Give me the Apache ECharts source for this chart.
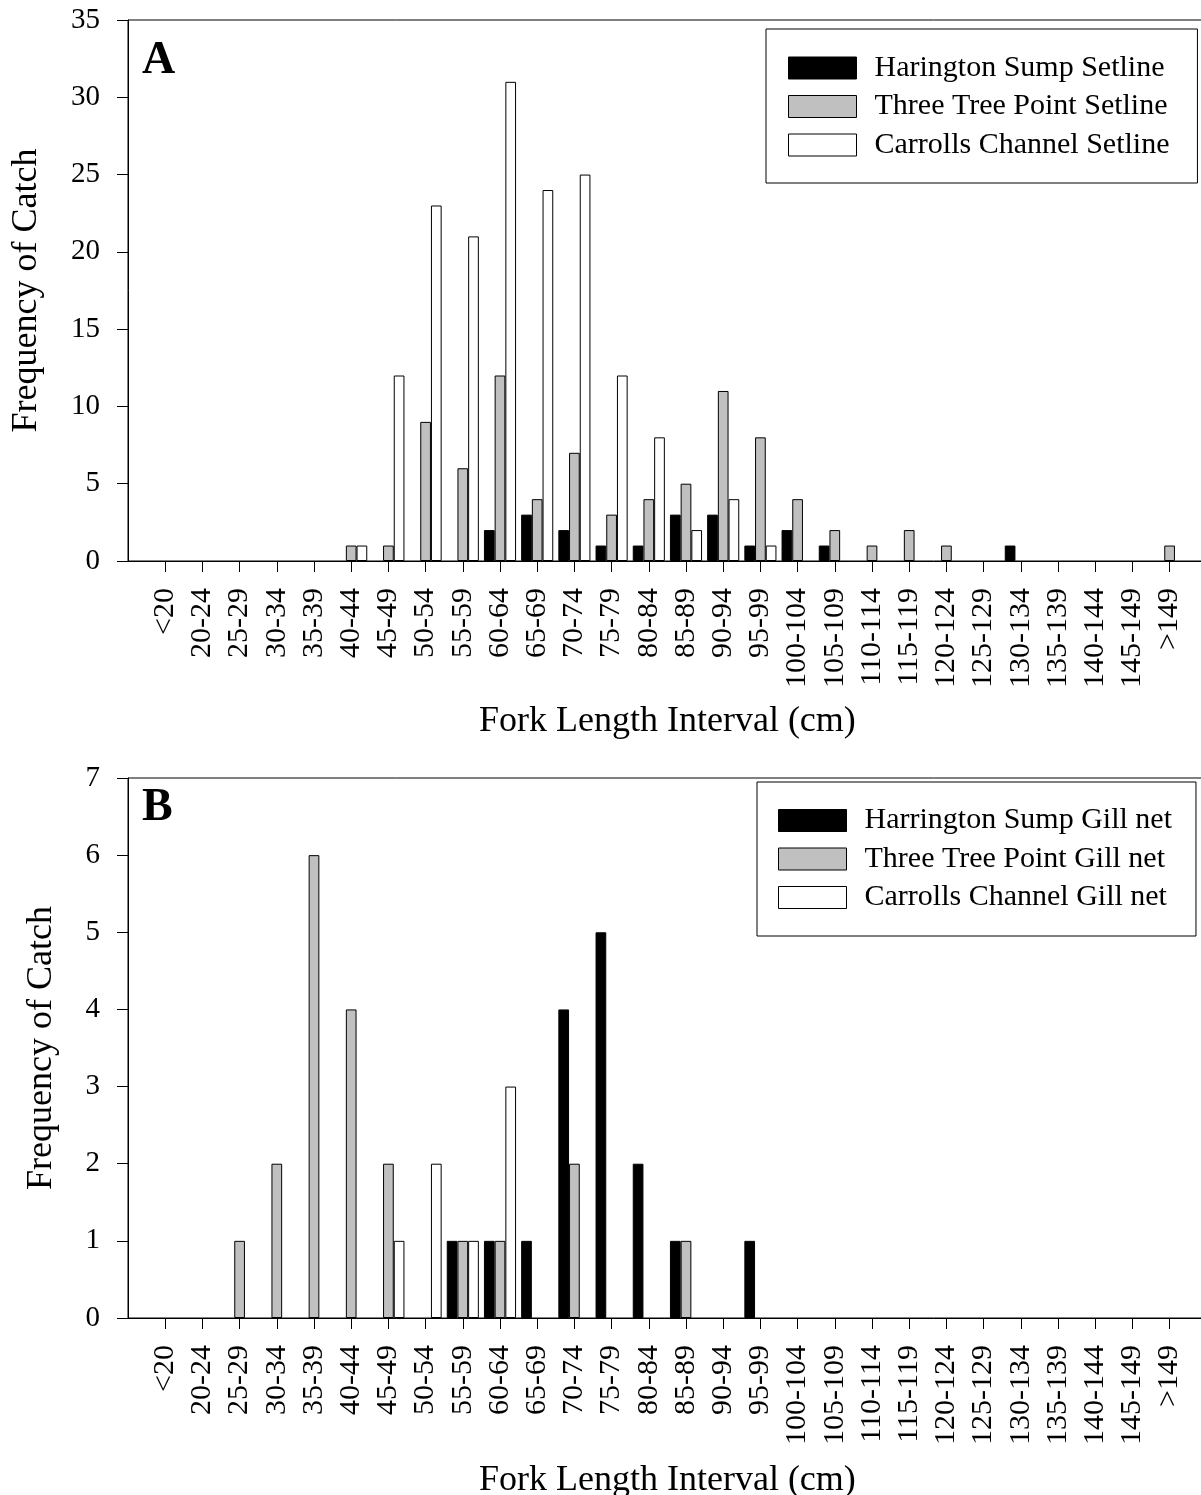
<!DOCTYPE html>
<html>
<head>
<meta charset="utf-8">
<script src="https://cdn.jsdelivr.net/npm/echarts@6/dist/echarts.min.js"></script>
<style>
  html, body { margin: 0; padding: 0; background: #fff; }
  #chart { width: 1201px; height: 1495px; }
</style>
</head>
<body>
<div id="chart"></div>
<script>
// fork length classes (cm)
var categories = ['<20', '20-24', '25-29', '30-34', '35-39', '40-44', '45-49', '50-54', '55-59',
  '60-64', '65-69', '70-74', '75-79', '80-84', '85-89', '90-94', '95-99', '100-104', '105-109',
  '110-114', '115-119', '120-124', '125-129', '130-134', '135-139', '140-144', '145-149', '>149'];

// panel A - setline catch
var haringtonSetline = [0, 0, 0, 0, 0, 0, 0, 0, 0, 2, 3, 2, 1, 1, 3, 3, 1, 2, 1, 0, 0, 0, 0, 1, 0, 0, 0, 0];
var threeTreeSetline = [0, 0, 0, 0, 0, 1, 1, 9, 6, 12, 4, 7, 3, 4, 5, 11, 8, 4, 2, 1, 2, 1, 0, 0, 0, 0, 0, 1];
var carrollsSetline = [0, 0, 0, 0, 0, 1, 12, 23, 21, 31, 24, 25, 12, 8, 2, 4, 1, 0, 0, 0, 0, 0, 0, 0, 0, 0, 0, 0];

// panel B - gill net catch
var haringtonGill = [0, 0, 0, 0, 0, 0, 0, 0, 1, 1, 1, 4, 5, 2, 1, 0, 1, 0, 0, 0, 0, 0, 0, 0, 0, 0, 0, 0];
var threeTreeGill = [0, 0, 1, 2, 6, 4, 2, 0, 1, 1, 0, 2, 0, 0, 1, 0, 0, 0, 0, 0, 0, 0, 0, 0, 0, 0, 0, 0];
var carrollsGill = [0, 0, 0, 0, 0, 0, 1, 2, 1, 3, 0, 0, 0, 0, 0, 0, 0, 0, 0, 0, 0, 0, 0, 0, 0, 0, 0, 0];

var namesA = ['Harington Sump Setline', 'Three Tree Point Setline', 'Carrolls Channel Setline'];
var namesB = ['Harrington Sump Gill net', 'Three Tree Point Gill net', 'Carrolls Channel Gill net'];

var FONT = "'Liberation Serif', 'Times New Roman', serif";
var fills = ['#000000', '#c0c0c0', '#ffffff'];

// empty slot at each end so the first/last class sit one step in from the axis ends;
// zero counts are left out so no flat outlines sit on the axis
function pad(arr) {
  return ['-'].concat(arr.map(function (v) { return v === 0 ? '-' : v; }), ['-']);
}
var axisData = [''].concat(categories, ['']);

function xAxisOf(gridIndex, gap) {
  return {
    type: 'category',
    gridIndex: gridIndex,
    data: axisData,
    boundaryGap: false,
    name: 'Fork Length Interval (cm)',
    nameLocation: 'middle',
    nameGap: gap,
    nameTextStyle: { fontFamily: FONT, fontSize: 36, color: '#000' },
    axisLine: { lineStyle: { color: '#000', width: 1 } },
    axisTick: {
      length: 11,
      lineStyle: { color: '#000' },
      interval: function (i, v) { return v !== ''; }
    },
    axisLabel: { interval: 0, rotate: 90, margin: 27, fontFamily: FONT, fontSize: 30, color: '#000' },
    splitLine: { show: false }
  };
}

function yAxisOf(gridIndex, max, step, gap) {
  return {
    type: 'value',
    gridIndex: gridIndex,
    min: 0,
    max: max,
    interval: step,
    name: 'Frequency of Catch',
    nameLocation: 'middle',
    nameGap: gap,
    nameTextStyle: { fontFamily: FONT, fontSize: 36, color: '#000' },
    axisLine: { show: true, lineStyle: { color: '#000', width: 1 } },
    axisTick: { show: true, length: 11, lineStyle: { color: '#000' } },
    axisLabel: { margin: 28, fontFamily: FONT, fontSize: 29, color: '#000' },
    splitLine: { show: false }
  };
}

function legendOf(names, left, top, pads) {
  return {
    data: names,
    orient: 'vertical',
    left: left,
    top: top,
    padding: pads,
    itemGap: 8.5,
    itemWidth: 68,
    itemHeight: 22,
    icon: 'rect',
    backgroundColor: '#fff',
    borderColor: '#000',
    borderWidth: 1,
    borderRadius: 0,
    selectedMode: false,
    itemStyle: { borderColor: '#000', borderWidth: 1 },
    textStyle: { fontFamily: FONT, fontSize: 30, color: '#000', padding: [0, 0, 0, 13] }
  };
}

function barsOf(names, lists, axisIndex) {
  return lists.map(function (vals, k) {
    return {
      name: names[k],
      type: 'bar',
      xAxisIndex: axisIndex,
      yAxisIndex: axisIndex,
      data: pad(vals),
      barWidth: 10.7,
      barGap: '0%',
      itemStyle: { color: fills[k], borderColor: '#000', borderWidth: 1 },
      emphasis: { disabled: true }
    };
  });
}

var chart = echarts.init(document.getElementById('chart'));
var option = {
  backgroundColor: '#fff',
  animation: false,
  title: [
    { text: 'A', left: 142, top: 38, padding: 0, textStyle: { fontFamily: FONT, fontSize: 46, fontWeight: 'bold', color: '#000' } },
    { text: 'B', left: 142, top: 785, padding: 0, textStyle: { fontFamily: FONT, fontSize: 46, fontWeight: 'bold', color: '#000' } }
  ],
  legend: [
    legendOf(namesA, 766, 29, [24, 28, 23, 22]),
    legendOf(namesB, 757, 782, [23.5, 24, 23.5, 21])
  ],
  // fixed plot boxes; outerBoundsMode none keeps them from shrinking to fit the axis names
  grid: [
    { left: 128, top: 20, width: 29 * 37.2, height: 541, show: true, borderColor: '#000', borderWidth: 1, outerBoundsMode: 'none' },
    { left: 128, top: 778, width: 29 * 37.2, height: 540, show: true, borderColor: '#000', borderWidth: 1, outerBoundsMode: 'none' }
  ],
  xAxis: [xAxisOf(0, 143), xAxisOf(1, 145)],
  yAxis: [yAxisOf(0, 35, 5, 83), yAxisOf(1, 7, 1, 68)],
  series: barsOf(namesA, [haringtonSetline, threeTreeSetline, carrollsSetline], 0)
    .concat(barsOf(namesB, [haringtonGill, threeTreeGill, carrollsGill], 1))
};
chart.setOption(option);
</script>
</body>
</html>
